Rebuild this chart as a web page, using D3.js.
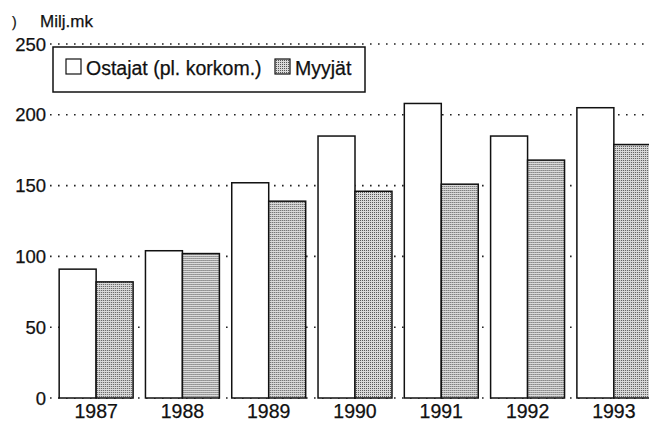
<!DOCTYPE html>
<meta charset="utf-8">
<style>
    body { margin: 0; background: #fff; }
    text { font-family: "Liberation Sans", Arial, sans-serif; fill: #111; stroke: #111; stroke-width: 0.25; }
    .grid line { stroke: #222; stroke-width: 1.6; stroke-dasharray: 1.6,6.4; }
    .bar { stroke: #111; stroke-width: 1.5; }
</style>
<svg width="649" height="425"></svg>
<script src="https://d3js.org/d3.v7.min.js"></script>
<script>

    var years = ["1987", "1988", "1989", "1990", "1991", "1992", "1993"];
    var ostajat = [91, 104, 152, 185, 208, 185, 205];
    var myyjat = [82, 102, 139, 146, 151, 168, 179];
    var seriesNames = ["Ostajat (pl. korkom.)", "Myyjät"];
    var yTicks = [0, 50, 100, 150, 200, 250];

    var svg = d3.select("svg");

    var x = d3.scaleBand().domain(years).range([53, 657]).paddingInner(0.143).paddingOuter(0.0715);
    var x1 = d3.scaleBand().domain([0, 1]).range([0, x.bandwidth()]);
    var y = d3.scaleLinear().domain([0, 250]).range([398, 44]);

    // stipple fill for the second series
    var pat = svg.append("defs").append("pattern")
        .attr("id", "stipple")
        .attr("width", 2).attr("height", 2)
        .attr("patternUnits", "userSpaceOnUse");
    pat.append("rect").attr("width", 2).attr("height", 2).attr("fill", "#dadada");
    pat.append("rect").attr("width", 1).attr("height", 1).attr("fill", "#555");

    var fills = ["#fff", "url(#stipple)"];

    // dotted grid
    svg.append("g").attr("class", "grid")
        .selectAll("line").data(yTicks).join("line")
        .attr("x1", 50).attr("x2", 649)
        .attr("y1", d => y(d)).attr("y2", d => y(d));

    // y tick labels
    svg.append("g").selectAll("text").data(yTicks).join("text")
        .attr("x", 46).attr("y", d => y(d) + 6.5)
        .attr("text-anchor", "end")
        .style("font-size", "18.5px")
        .text(d => d);

    svg.append("text").attr("x", 40).attr("y", 27).style("font-size", "17px").text("Milj.mk");
    svg.append("text").attr("x", 12).attr("y", 27).style("font-size", "14px").text(")");

    // bars
    var groups = svg.append("g").selectAll("g").data(years).join("g")
        .attr("transform", d => "translate(" + x(d) + ",0)");

    groups.selectAll("rect").data((d, i) => [ostajat[i], myyjat[i]]).join("rect")
        .attr("class", "bar")
        .attr("x", (d, j) => x1(j))
        .attr("width", x1.bandwidth())
        .attr("y", d => y(d))
        .attr("height", d => y(0) - y(d))
        .attr("fill", (d, j) => fills[j]);

    // x labels
    svg.append("g").selectAll("text").data(years).join("text")
        .attr("x", d => x(d) + x.bandwidth() / 2)
        .attr("y", 418)
        .attr("text-anchor", "middle")
        .style("font-size", "19.5px")
        .text(d => d);

    // legend
    var legend = svg.append("g");
    legend.append("rect")
        .attr("x", 53).attr("y", 47).attr("width", 312).attr("height", 45)
        .attr("fill", "#fff").attr("stroke", "#111").attr("stroke-width", 1.5);
    var lx = [66, 275];
    seriesNames.forEach(function(name, i) {
        legend.append("rect")
            .attr("x", lx[i]).attr("y", 59).attr("width", 15).attr("height", 15)
            .attr("fill", fills[i]).attr("stroke", "#111").attr("stroke-width", 1.2);
        legend.append("text")
            .attr("x", lx[i] + 20).attr("y", 75)
            .style("font-size", "19.5px")
            .text(name);
    });

</script>
